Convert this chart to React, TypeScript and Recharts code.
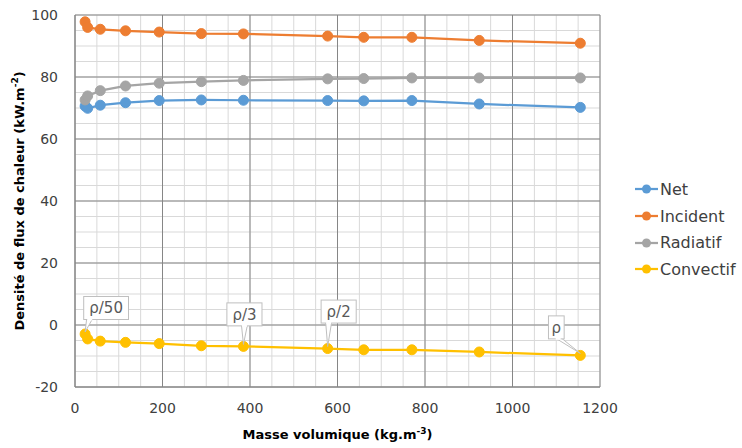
import {
  LineChart,
  Line,
  XAxis,
  YAxis,
  LabelList,
} from "recharts";

document.body.style.margin = "0";

// masse volumique (kg.m-3) — rho/50 ... rho
const densities = [23.1, 28.9, 57.75, 115.5, 192.5, 288.75, 385, 577.5, 660, 770, 924, 1155];
const densityTags = ["ρ/50", "", "", "", "", "", "ρ/3", "ρ/2", "", "", "", "ρ"];

const netValues = [70.6, 69.9, 70.9, 71.7, 72.4, 72.6, 72.5, 72.4, 72.3, 72.4, 71.3, 70.2];
const incidentValues = [97.8, 96.0, 95.4, 94.9, 94.5, 94.0, 93.9, 93.2, 92.8, 92.8, 91.8, 90.9];
const radiatifValues = [72.6, 73.9, 75.6, 77.1, 78.0, 78.5, 78.9, 79.4, 79.5, 79.7, 79.7, 79.7];
const convectifValues = [-2.9, -4.5, -5.2, -5.6, -6.0, -6.7, -6.9, -7.6, -8.0, -8.0, -8.7, -9.8];

const series = [
  { key: "net", name: "Net", color: "#5B9BD5" },
  { key: "incident", name: "Incident", color: "#ED7D31" },
  { key: "radiatif", name: "Radiatif", color: "#A5A5A5" },
  { key: "convectif", name: "Convectif", color: "#FFC000" },
];

const data = densities.map((d, i) => ({
  rho: d,
  tag: densityTags[i],
  net: netValues[i],
  incident: incidentValues[i],
  radiatif: radiatifValues[i],
  convectif: convectifValues[i],
}));

const X_DOMAIN = [0, 1200];
const Y_DOMAIN = [-20, 100];
const xMajor = [0, 200, 400, 600, 800, 1000, 1200];
const yMajor = [-20, 0, 20, 40, 60, 80, 100];
// minor grid every 50 on x, every 5 on y
const xMinor = Array.from({ length: 25 }, (_, i) => i * 50);
const yMinor = Array.from({ length: 25 }, (_, i) => -20 + i * 5);

const FONT = "'DejaVu Sans', sans-serif";

const W = 742;
const H = 448;
const M = { top: 15, right: 142, bottom: 0, left: 0 };
const Y_WIDTH = 75;
const X_HEIGHT = 61;
const PLOT_X = M.left + Y_WIDTH;
const PLOT_W = W - M.left - M.right - Y_WIDTH;
const PLOT_H = H - M.top - M.bottom - X_HEIGHT;

// same linear mapping as the chart's axes, for the grid underlay
const px = (v: number) => PLOT_X + ((v - X_DOMAIN[0]) / (X_DOMAIN[1] - X_DOMAIN[0])) * PLOT_W;
const py = (v: number) => M.top + ((Y_DOMAIN[1] - v) / (Y_DOMAIN[1] - Y_DOMAIN[0])) * PLOT_H;

const GridUnderlay = () => (
  <svg width={W} height={H} style={{ position: "absolute", left: 0, top: 0 }}>
    {xMinor.map((v) => (
      <line key={"xm" + v} x1={px(v)} x2={px(v)} y1={M.top} y2={M.top + PLOT_H} stroke="#D9D9D9" strokeWidth={1} />
    ))}
    {yMinor.map((v) => (
      <line key={"ym" + v} x1={PLOT_X} x2={PLOT_X + PLOT_W} y1={py(v)} y2={py(v)} stroke="#D9D9D9" strokeWidth={1} />
    ))}
    {xMajor.map((v) => (
      <line key={"xM" + v} x1={px(v)} x2={px(v)} y1={M.top} y2={M.top + PLOT_H} stroke="#868686" strokeWidth={1} />
    ))}
    {yMajor.map((v) => (
      <line key={"yM" + v} x1={PLOT_X} x2={PLOT_X + PLOT_W} y1={py(v)} y2={py(v)} stroke="#868686" strokeWidth={1} />
    ))}
  </svg>
);

// where each callout box sits relative to its point
const calloutOffset: Record<string, { dx: number; dy: number }> = {
  "ρ/50": { dx: 21, dy: -26 },
  "ρ/3": { dx: 1, dy: -32 },
  "ρ/2": { dx: 11, dy: -37 },
  "ρ": { dx: -24, dy: -28 },
};

const Callout = (props: any) => {
  const { x, y, value } = props;
  if (!value) return null;
  const off = calloutOffset[value] ?? { dx: 0, dy: -30 };
  const w = 6 + 9.7 * String(value).length;
  const h = 23;
  const cx = x + off.dx;
  const cy = y + off.dy;
  const left = cx - w / 2;
  const bottom = cy + h / 2;
  const bx = Math.min(Math.max(x - 2, left + 3), left + w - 9);
  return (
    <g>
      <polygon
        points={`${bx},${bottom - 1} ${bx + 6},${bottom - 1} ${x},${y - 2}`}
        fill="#fff"
        stroke="#BFBFBF"
        strokeWidth={1}
      />
      <rect x={left} y={cy - h / 2} width={w} height={h} fill="#fff" stroke="#BFBFBF" strokeWidth={1} />
      <rect x={bx + 0.5} y={bottom - 2} width={5} height={3} fill="#fff" />
      <text
        x={cx}
        y={cy + 1}
        textAnchor="middle"
        dominantBaseline="middle"
        fontSize={15}
        fontFamily={FONT}
        fill="#595959"
      >
        {value}
      </text>
    </g>
  );
};

const YTitle = ({ viewBox }: any) => {
  const cx = 20;
  const cy = viewBox.y + viewBox.height / 2;
  return (
    <text
      x={cx}
      y={cy}
      transform={`rotate(-90, ${cx}, ${cy})`}
      textAnchor="middle"
      dominantBaseline="middle"
      fontSize={13}
      fontWeight="bold"
      fontFamily={FONT}
      fill="#000"
    >
      Densité de flux de chaleur (kW.m
      <tspan dy={-5} fontSize={9}>-2</tspan>
      <tspan dy={5}>)</tspan>
    </text>
  );
};

const XTitle = ({ viewBox }: any) => {
  const cx = viewBox.x + viewBox.width / 2;
  return (
    <text
      x={cx}
      y={439}
      textAnchor="middle"
      fontSize={13}
      fontWeight="bold"
      fontFamily={FONT}
      fill="#000"
    >
      Masse volumique (kg.m
      <tspan dy={-5} fontSize={9}>-3</tspan>
      <tspan dy={5}>)</tspan>
    </text>
  );
};

export default function App() {
  return (
    <div style={{ position: "relative", width: W, height: H, background: "#fff" }}>
      <GridUnderlay />
      <div style={{ position: "absolute", left: 0, top: 0 }}>
        <LineChart width={W} height={H} data={data} margin={M}>
          <XAxis
            type="number"
            dataKey="rho"
            domain={X_DOMAIN}
            ticks={xMajor}
            interval={0}
            tickSize={0}
            tickMargin={16}
            height={X_HEIGHT}
            axisLine={{ stroke: "#868686", strokeWidth: 1 }}
            tick={{ fontSize: 14, fontFamily: FONT, fill: "#404040" }}
            label={<XTitle />}
          />
          <YAxis
            type="number"
            domain={Y_DOMAIN}
            ticks={yMajor}
            interval={0}
            tickSize={0}
            tickMargin={17}
            width={Y_WIDTH}
            axisLine={{ stroke: "#868686", strokeWidth: 1 }}
            tick={{ fontSize: 14, fontFamily: FONT, fill: "#404040" }}
            label={<YTitle />}
          />
          {series.map((s) => (
            <Line
              key={s.key}
              type="linear"
              dataKey={s.key}
              name={s.name}
              stroke={s.color}
              strokeWidth={2.25}
              dot={{ r: 5, fill: s.color, stroke: s.color, strokeWidth: 1 }}
              activeDot={false}
              isAnimationActive={false}
            >
              {s.key === "convectif" && <LabelList dataKey="tag" content={<Callout />} />}
            </Line>
          ))}
        </LineChart>
      </div>
      <div style={{ position: "absolute", left: 635, top: 176, fontFamily: FONT, fontSize: 16, color: "#404040" }}>
        {series.map((s) => (
          <div key={s.key} style={{ display: "flex", alignItems: "center", height: 26.7 }}>
            <svg width={24} height={12} style={{ marginRight: 1 }}>
              <line x1={0} y1={6} x2={23} y2={6} stroke={s.color} strokeWidth={2.25} />
              <circle cx={11.5} cy={6} r={4.5} fill={s.color} />
            </svg>
            <span>{s.name}</span>
          </div>
        ))}
      </div>
    </div>
  );
}
